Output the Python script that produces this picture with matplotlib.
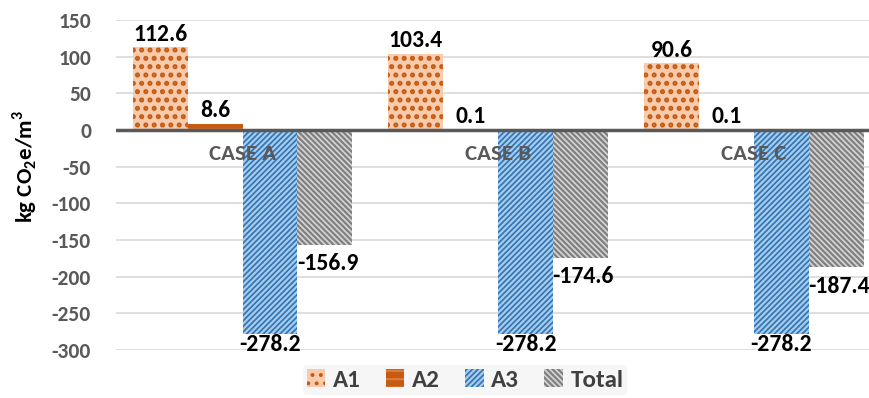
import matplotlib
matplotlib.use("Agg")
import matplotlib.pyplot as plt
from matplotlib.patches import Patch
import numpy as np

plt.rcParams['font.family'] = ['Carlito', 'DejaVu Sans']
plt.rcParams['mathtext.fontset'] = 'custom'
plt.rcParams['mathtext.rm'] = 'Carlito:bold'
plt.rcParams['mathtext.bf'] = 'Carlito:bold'
plt.rcParams['hatch.linewidth'] = 1.6

cases = ["CASE A", "CASE B", "CASE C"]
series = ["A1", "A2", "A3", "Total"]
a1 = [112.6, 103.4, 90.6]
a2 = [8.6, 0.1, 0.1]
a3 = [-278.2, -278.2, -278.2]
total = [-156.9, -174.6, -187.4]
yticks = [150, 100, 50, 0, -50, -100, -150, -200, -250, -300]

styles = {
    "A1": dict(facecolor="#f8cbad", edgecolor="#c55a11", hatch=".."),
    "A2": dict(facecolor="#c55a11", edgecolor="#e07a3a", hatch="--"),
    "A3": dict(facecolor="#2e75b6", edgecolor="#a9cbeb", hatch="//////"),
    "Total": dict(facecolor="#d6d6d6", edgecolor="#808080", hatch="\\\\\\\\\\\\"),
}
hatch_lw = {"A1": 2.4, "A2": 1.2, "A3": 1.6, "Total": 1.6}


def apply_hatch_lw(patch, name):
    if hasattr(patch, "set_hatch_linewidth"):
        patch.set_hatch_linewidth(hatch_lw[name])


fig = plt.figure(figsize=(8.69, 3.98), dpi=100)
ax = fig.add_axes([0.1335, 0.1206, 0.8665, 0.8294])

x = np.arange(len(cases))
w = 0.215
values = [a1, a2, a3, total]
for i, (name, vals) in enumerate(zip(series, values)):
    pos = x + (i - 1.5) * w
    bars = ax.bar(pos, vals, width=w, linewidth=0, zorder=2, **styles[name])
    for b in bars:
        apply_hatch_lw(b, name)
    for xp, v in zip(pos, vals):
        if v >= 0:
            ax.annotate(f"{v:.1f}", (xp, v), xytext=(0, 2), textcoords="offset points",
                        ha="center", va="bottom", fontsize=17, fontweight="bold", color="black")
        else:
            off = -6 if name == "Total" else 0
            ax.annotate(f"{v:.1f}", (xp + (0.01 if name == "Total" else 0), v),
                        xytext=(0, off), textcoords="offset points",
                        ha="center", va="top", fontsize=17, fontweight="bold", color="black")

# category names just under the zero line
for xc, name in zip(x, cases):
    ax.annotate(name, (xc, 0), xytext=(0, -10), textcoords="offset points",
                ha="center", va="top", fontsize=16.5, fontweight="bold", color="#595959", zorder=3)

ax.axhline(0, color="#595959", linewidth=2.5, zorder=3)
ax.set_xlim(-0.4946, 2.4497)
ax.set_ylim(-300, 150)
ax.set_yticks(yticks)
ax.set_yticklabels([str(t) for t in yticks])
ax.set_xticks([])
ax.yaxis.grid(True, color="#d9d9d9", linewidth=1.2, zorder=0)
ax.set_axisbelow(True)
for s in ax.spines.values():
    s.set_visible(False)
ax.tick_params(axis="y", length=0, pad=18, labelsize=15.5, labelcolor="#595959")
for lbl in ax.get_yticklabels():
    lbl.set_fontweight("bold")

fig.text(0.029, 0.583, r"kg CO$_\mathbf{2}$e/m$^\mathbf{3}$", rotation=90, ha="center", va="center",
         fontsize=16.5, fontweight="bold", color="black")

handles = [Patch(linewidth=0, **styles[n]) for n in series]
for h, n in zip(handles, series):
    apply_hatch_lw(h, n)
leg = fig.legend(handles, series, loc="center", bbox_to_anchor=(0.535, 0.045), ncol=4,
                 frameon=True, fontsize=18, handlelength=0.75, handleheight=0.75,
                 handletextpad=0.3, columnspacing=1.0, borderpad=0.15)
leg.get_frame().set_facecolor("#f4f4f4")
leg.get_frame().set_edgecolor("none")
for t in leg.get_texts():
    t.set_fontweight("bold")
    t.set_color("#404040")

fig.savefig("out.png", dpi=100)
